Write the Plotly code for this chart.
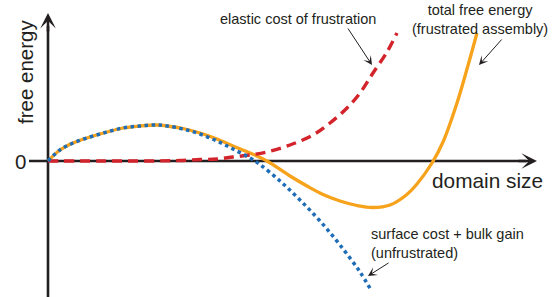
import plotly.graph_objects as go

# domain size (arbitrary units) and free energy values (arbitrary units)
x_blue = [0, 12, 25, 42, 59, 75, 92, 109, 119, 135, 152, 169, 185, 202, 212, 232, 252, 272, 292, 312, 323]
y_blue = [0, 11, 18, 24, 29, 33, 35, 36, 35, 32, 27, 20, 12, 3, -3.5, -20, -39, -60, -84, -111, -129]

x_orange = [0, 12, 25, 42, 59, 75, 92, 109, 119, 135, 152, 169, 185, 202, 219, 242, 259,
            275, 292, 309, 325, 342, 357, 369, 384, 395, 409, 419, 429]
y_orange = [0, 11, 18, 24, 29, 33, 35, 36, 35, 32.5, 28, 22, 15, 8, 0, -15, -25,
            -33.5, -40, -44.5, -46.5, -44, -35, -23, -2, 19, 58, 92, 128]

x_red = [0, 52, 102, 132, 152, 169, 185, 202, 219, 242, 265, 282, 299, 312, 325, 339, 349]
y_red = [0, 0, 0, 0.5, 1.5, 2, 4, 6, 9, 16, 26, 38, 53, 68, 88, 109, 128]

AX = "#231F20"
FONT = "Liberation Sans, Arial, Helvetica, sans-serif"

fig = go.Figure()
fig.add_trace(go.Scatter(x=x_orange, y=y_orange, mode="lines", line=dict(color="#F7A21B", width=3.3, shape="spline"),
                         hoverinfo="skip"))
fig.add_trace(go.Scatter(x=x_red, y=y_red, mode="lines",
                         line=dict(color="#D3242C", width=3.4, dash="10px,6px", shape="spline"), hoverinfo="skip"))
fig.add_trace(go.Scatter(x=x_blue, y=y_blue, mode="lines",
                         line=dict(color="#1F6DB7", width=3.5, dash="dot", shape="spline"), hoverinfo="skip"))

# axes lines (below traces)
fig.add_shape(type="line", x0=0, x1=0, y0=-140, y1=135, xref="x", yref="y", layer="below",
              line=dict(color=AX, width=2.6))
fig.add_shape(type="line", x0=-19, x1=478, y0=0, y1=0, xref="x", yref="y", layer="below",
              line=dict(color=AX, width=2.6))

anns = []
# axis arrowheads
anns.append(dict(x=0, y=148, ax=0, ay=128, xref="x", yref="y", axref="x", ayref="y", text="",
                 showarrow=True, arrowhead=3, arrowsize=1, arrowwidth=2.6, arrowcolor=AX, standoff=0))
anns.append(dict(x=489, y=0, ax=469, ay=0, xref="x", yref="y", axref="x", ayref="y", text="",
                 showarrow=True, arrowhead=3, arrowsize=1, arrowwidth=2.6, arrowcolor=AX, standoff=0))
# pointer arrows
for (tx, ty, hx, hy) in [(299, 134, 324, 96), (455, 123, 431, 96), (342, -101, 320, -115)]:
    anns.append(dict(x=hx, y=hy, ax=tx, ay=ty, xref="x", yref="y", axref="x", ayref="y", text="",
                     showarrow=True, arrowhead=3, arrowsize=1.5, arrowwidth=1, arrowcolor=AX, standoff=0))

# text
anns.append(dict(x=-28, y=0, xref="x", yref="y", text="0", showarrow=False,
                 font=dict(family=FONT, size=20.5, color=AX), xanchor="center", yanchor="middle"))
anns.append(dict(x=-23, y=89, xref="x", yref="y", text="free energy", showarrow=False, textangle=-90,
                 font=dict(family=FONT, size=20.5, color=AX), xanchor="center", yanchor="middle"))
anns.append(dict(x=382, y=-19, xref="x", yref="y", text="domain size", showarrow=False,
                 font=dict(family=FONT, size=20.8, color=AX), xanchor="left", yanchor="middle"))
anns.append(dict(x=170, y=142, xref="x", yref="y", text="elastic cost of frustration", showarrow=False,
                 font=dict(family=FONT, size=14.5, color=AX), xanchor="left", yanchor="middle"))
anns.append(dict(x=432, y=142, xref="x", yref="y", text="total free energy<br>(frustrated assembly)",
                 showarrow=False, align="center",
                 font=dict(family=FONT, size=14.5, color=AX), xanchor="center", yanchor="middle"))
anns.append(dict(x=321, y=-82.5, xref="x", yref="y", text="surface cost + bulk gain<br>(unfrustrated)",
                 showarrow=False, align="left",
                 font=dict(family=FONT, size=14.5, color=AX), xanchor="left", yanchor="middle"))

fig.update_layout(
    width=554, height=297,
    margin=dict(l=0, r=0, t=0, b=0),
    paper_bgcolor="white", plot_bgcolor="white",
    showlegend=False,
    xaxis=dict(visible=False, range=[-48, 506], fixedrange=True),
    yaxis=dict(visible=False, range=[-136, 161], fixedrange=True),
    annotations=anns,
)

fig.write_html("out.html", config={"displayModeBar": False},
               post_script="document.body.style.margin='0px';document.body.style.overflow='hidden';")
